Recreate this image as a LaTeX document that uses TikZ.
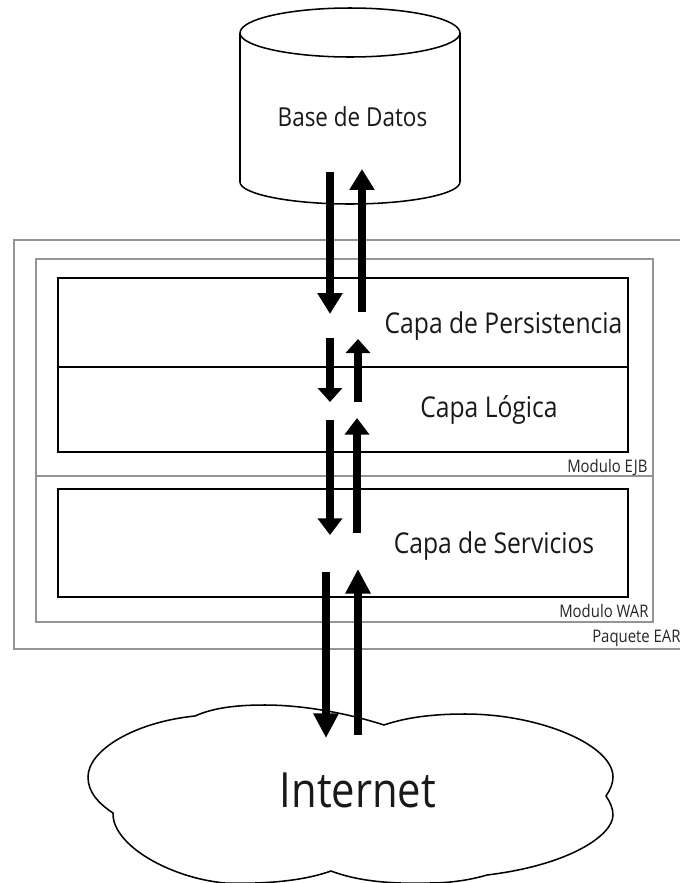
\documentclass[tikz,border=0pt]{standalone}
\usepackage{fontspec}
\setmainfont[FakeStretch=0.86]{Open Sans}
\usetikzlibrary{arrows.meta}
\tikzset{
 px/.style={x=0.75pt,y=-0.75pt},
 graybox/.style={draw=black!42,line width=1.5pt},
 blackbox/.style={draw=black,line width=1.15pt},
 flow/.style={line width=5.6pt,-{Triangle[width=18pt,length=#1,inset=0pt]},black},
 outline/.style={draw=black,line width=1.15pt,fill=white},
 lbl/.style={inner sep=0pt,anchor=base,text=black!90},
 big/.style={lbl,font=\fontsize{21.5pt}{24pt}\selectfont},
 tiny/.style={inner sep=0pt,anchor=base west,text=black!85,font=\fontsize{13pt}{15pt}\selectfont},
}
\begin{document}
\begin{tikzpicture}[px]
\useasboundingbox (0,0) rectangle (680,883);
% gray boxes
\draw[graybox] (14,240) rectangle (690,649);
\draw[graybox] (36,259) rectangle (653,622);
\draw[graybox] (36,476) -- (653,476);
% layer boxes
\draw[blackbox] (58,278) rectangle (628,452);
\draw[blackbox] (58,367) -- (628,367);
\draw[blackbox] (58,489) rectangle (628,597);
% database
\draw[outline] (240,33) -- (240,182) .. controls (240,194) and (290,204) .. (350,204) .. controls (410,204) and (460,194) .. (460,182) -- (460,33) .. controls (460,19) and (410,8) .. (350,8) .. controls (290,8) and (240,19) .. (240,33) -- cycle;
\draw[outline,fill=none] (240,33) .. controls (240,46) and (290,57) .. (350,57) .. controls (410,57) and (460,46) .. (460,33);
\node[lbl,font=\fontsize{19.6pt}{22pt}\selectfont] (db) at (352.5,126) {Base de Datos};
% cloud
\draw[outline] (195,716) .. controls (215,707) and (240,705) .. (265,705) .. controls (305,705) and (350,714) .. (384,725) .. controls (410,716) and (440,714) .. (465,714) .. controls (540,714) and (613,745) .. (613,777) .. controls (613,784) and (610,790) .. (606,796) .. controls (610,802) and (613,808) .. (613,815) .. controls (613,835) and (570,865) .. (487,875) .. controls (470,880) and (450,883) .. (430,883) .. controls (395,884) and (360,882) .. (331,871) .. controls (300,882) and (260,884) .. (225,883) .. controls (170,878) and (112,845) .. (113,813) .. controls (98,803) and (88,792) .. (88,777) .. controls (88,750) and (135,722) .. (195,716) -- cycle;
\node[lbl,font=\fontsize{36.4pt}{40pt}\selectfont] (net) at (358,807) {Internet};
% texts
\node[big] (p) at (503.5,333) {Capa de Persistencia};
\node[big] (l) at (489,417) {Capa Lógica};
\node[big] (s) at (494,553) {Capa de Servicios};
\node[tiny] (e) at (567,472) {Modulo EJB};
\node[tiny] (w) at (559,617) {Modulo WAR};
\node[tiny] (r) at (592,642) {Paquete EAR};
% arrows
\coordinate (a1s) at (330,172); \coordinate (a1e) at (330,314);
\coordinate (a2s) at (362,312); \coordinate (a2e) at (362,169);
\coordinate (a3s) at (330,338); \coordinate (a3e) at (330,402);
\coordinate (a4s) at (358,402); \coordinate (a4e) at (358,339);
\coordinate (a5s) at (330,420); \coordinate (a5e) at (330,535);
\coordinate (a6s) at (357,533); \coordinate (a6e) at (357,418);
\coordinate (a7s) at (326,572); \coordinate (a7e) at (326,738);
\coordinate (a8s) at (358,735); \coordinate (a8e) at (358,569);
\draw[flow=15.7pt] (a1s) -- (a1e);
\draw[flow=15.7pt] (a2s) -- (a2e);
\draw[flow=10.5pt] (a3s) -- (a3e);
\draw[flow=10.5pt] (a4s) -- (a4e);
\draw[flow=12.5pt] (a5s) -- (a5e);
\draw[flow=12.5pt] (a6s) -- (a6e);
\draw[flow=18.5pt] (a7s) -- (a7e);
\draw[flow=18.5pt] (a8s) -- (a8e);
\end{tikzpicture}
\end{document}
